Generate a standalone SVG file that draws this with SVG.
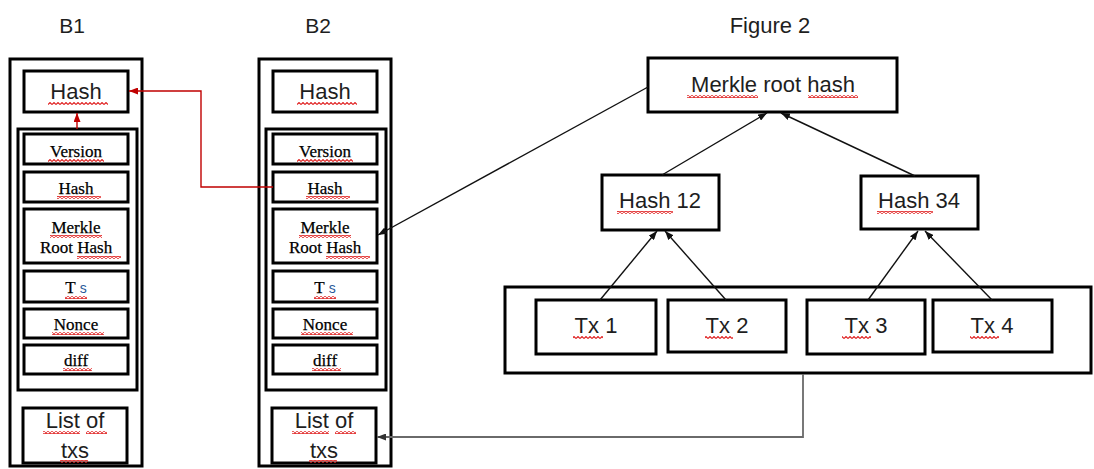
<svg xmlns="http://www.w3.org/2000/svg" width="1094" height="469" viewBox="0 0 1094 469">
  <style>
    .box{fill:#fff;stroke:#000;stroke-width:3}
    .sans{font-family:"Liberation Sans",Arial,sans-serif;fill:#1e1e1e;text-anchor:middle}
    .serif{font-family:"Liberation Serif","Times New Roman",serif;fill:#000;text-anchor:middle;font-size:17px;stroke:#000;stroke-width:0.25}
    .big{font-size:22px}
    .title{font-size:21px}
    .conn{fill:none;stroke:#111;stroke-width:1.4}
    .red{fill:none;stroke:#c00000;stroke-width:1.4}
    .gray{fill:none;stroke:#6a6a6a;stroke-width:1.8}
    .sq{fill:url(#wave)}
  </style>
  <defs>
    <pattern id="wave" patternUnits="userSpaceOnUse" width="4" height="3">
      <path d="M0 2.5 L2 0.5 L4 2.5" fill="none" stroke="#e02020" stroke-width="1.1"/>
    </pattern>
    <marker id="ah" markerUnits="userSpaceOnUse" markerWidth="9" markerHeight="7" refX="9" refY="3.5" orient="auto">
      <path d="M0,0 L9,3.5 L0,7 z" fill="#111"/>
    </marker>
    <marker id="ahRed" markerUnits="userSpaceOnUse" markerWidth="9" markerHeight="7" refX="9" refY="3.5" orient="auto">
      <path d="M0,0 L9,3.5 L0,7 z" fill="#c00000"/>
    </marker>
    <marker id="ahGray" markerUnits="userSpaceOnUse" markerWidth="9" markerHeight="7" refX="9" refY="3.5" orient="auto">
      <path d="M0,0 L9,3.5 L0,7 z" fill="#333"/>
    </marker>
  </defs>

  <rect width="1094" height="469" fill="#fff"/>

  <!-- Titles -->
  <text class="sans title" x="72" y="33">B1</text>
  <text class="sans title" x="318" y="33">B2</text>
  <text class="sans big" x="770" y="33">Figure 2</text>

  <!-- Block B1 -->
  <g id="block-b1">
    <rect class="box" x="10" y="59" width="132" height="407"/>
    <rect class="box" x="24" y="71" width="104" height="41"/>
    <text class="sans big" x="76" y="99">Hash</text>
    <rect class="sq" x="48" y="102" width="60" height="3"/>
    <g id="b1-header">
      <rect class="box" x="18" y="129" width="119" height="261"/>
      <rect class="box" x="24" y="134" width="104" height="30"/>
      <text class="serif" x="76" y="157">Version</text>
      <rect class="sq" x="48" y="159" width="56" height="3"/>
      <rect class="box" x="24" y="172" width="104" height="30"/>
      <text class="serif" x="76" y="194">Hash</text>
      <rect class="sq" x="57" y="196" width="44" height="3"/>
      <rect class="box" x="24" y="209" width="104" height="54"/>
      <text class="serif" x="76" y="233">Merkle</text>
      <rect class="sq" x="50" y="235" width="52" height="3"/>
      <text class="serif" x="76" y="253">Root Hash</text>
      <rect class="sq" x="77" y="256" width="44" height="3"/>
      <rect class="box" x="24" y="271" width="104" height="31"/>
      <text class="serif" x="76" y="293">T <tspan font-family="Liberation Sans, Arial, sans-serif" font-size="14" fill="#2a5a9a" stroke="none">s</tspan></text>
      <rect class="sq" x="65" y="296" width="22" height="3"/>
      <rect class="box" x="24" y="309" width="104" height="29"/>
      <text class="serif" x="76" y="330">Nonce</text>
      <rect class="sq" x="52" y="332" width="52" height="3"/>
      <rect class="box" x="24" y="345" width="104" height="29"/>
      <text class="serif" x="76" y="366">diff</text>
      <rect class="sq" x="63" y="368" width="29" height="3"/>
    </g>
    <rect class="box" x="23" y="408" width="104" height="55"/>
    <text class="sans big" x="75" y="428">List of</text>
    <rect class="sq" x="43" y="431" width="37" height="3"/>
    <rect class="sq" x="86" y="431" width="21" height="3"/>
    <text class="sans big" x="75" y="458">txs</text>
    <rect class="sq" x="60" y="460" width="28" height="3"/>
  </g>

  <!-- Block B2 -->
  <g id="block-b2" transform="translate(249,0)">
    <rect class="box" x="10" y="59" width="132" height="407"/>
    <rect class="box" x="24" y="71" width="104" height="41"/>
    <text class="sans big" x="76" y="99">Hash</text>
    <rect class="sq" x="48" y="102" width="60" height="3"/>
    <g id="b2-header">
      <rect class="box" x="17" y="129" width="120" height="261"/>
      <rect class="box" x="24" y="134" width="104" height="30"/>
      <text class="serif" x="76" y="157">Version</text>
      <rect class="sq" x="48" y="159" width="56" height="3"/>
      <rect class="box" x="24" y="172" width="104" height="30"/>
      <text class="serif" x="76" y="194">Hash</text>
      <rect class="sq" x="57" y="196" width="44" height="3"/>
      <rect class="box" x="24" y="209" width="104" height="54"/>
      <text class="serif" x="76" y="233">Merkle</text>
      <rect class="sq" x="50" y="235" width="52" height="3"/>
      <text class="serif" x="76" y="253">Root Hash</text>
      <rect class="sq" x="77" y="256" width="44" height="3"/>
      <rect class="box" x="24" y="271" width="104" height="31"/>
      <text class="serif" x="76" y="293">T <tspan font-family="Liberation Sans, Arial, sans-serif" font-size="14" fill="#2a5a9a" stroke="none">s</tspan></text>
      <rect class="sq" x="65" y="296" width="22" height="3"/>
      <rect class="box" x="24" y="309" width="104" height="29"/>
      <text class="serif" x="76" y="330">Nonce</text>
      <rect class="sq" x="52" y="332" width="52" height="3"/>
      <rect class="box" x="24" y="345" width="104" height="29"/>
      <text class="serif" x="76" y="366">diff</text>
      <rect class="sq" x="63" y="368" width="29" height="3"/>
    </g>
    <rect class="box" x="23" y="408" width="104" height="55"/>
    <text class="sans big" x="75" y="428">List of</text>
    <rect class="sq" x="43" y="431" width="37" height="3"/>
    <rect class="sq" x="86" y="431" width="21" height="3"/>
    <text class="sans big" x="75" y="458">txs</text>
    <rect class="sq" x="60" y="460" width="28" height="3"/>
  </g>

  <!-- Merkle tree -->
  <g id="merkle-root">
    <rect class="box" x="648" y="58" width="249" height="54"/>
    <text class="sans big" x="773" y="92">Merkle root hash</text>
    <rect class="sq" x="687" y="95" width="71" height="3"/>
    <rect class="sq" x="808" y="95" width="50" height="3"/>
  </g>
  <g id="hash-12">
    <rect class="box" x="602" y="175" width="117" height="55"/>
    <text class="sans big" x="660" y="208">Hash 12</text>
    <rect class="sq" x="617" y="211" width="56" height="3"/>
  </g>
  <g id="hash-34">
    <rect class="box" x="861" y="176" width="117" height="53"/>
    <text class="sans big" x="919" y="208">Hash 34</text>
    <rect class="sq" x="877" y="211" width="56" height="3"/>
  </g>
  <g id="tx-list">
    <rect class="box" x="505" y="287" width="586" height="86"/>
  </g>
  <g id="tx-1">
    <rect class="box" x="536" y="300" width="120" height="54"/>
    <text class="sans big" x="596" y="333">Tx 1</text>
    <rect class="sq" x="573" y="336" width="30" height="3"/>
  </g>
  <g id="tx-2">
    <rect class="box" x="668" y="300" width="118" height="52"/>
    <text class="sans big" x="727" y="333">Tx 2</text>
    <rect class="sq" x="705" y="336" width="28" height="3"/>
  </g>
  <g id="tx-3">
    <rect class="box" x="807" y="300" width="118" height="54"/>
    <text class="sans big" x="866" y="333">Tx 3</text>
    <rect class="sq" x="842" y="336" width="29" height="3"/>
  </g>
  <g id="tx-4">
    <rect class="box" x="933" y="300" width="119" height="52"/>
    <text class="sans big" x="992" y="333">Tx 4</text>
    <rect class="sq" x="970" y="336" width="29" height="3"/>
  </g>

  <!-- Connectors -->
  <g id="connectors">
    <path class="red" d="M273,187 H201 V91 H129" marker-end="url(#ahRed)"/>
    <path class="red" d="M77,129 V113" marker-end="url(#ahRed)"/>
    <path class="conn" d="M662,175 L767,113" marker-end="url(#ah)"/>
    <path class="conn" d="M915,176 L781,113" marker-end="url(#ah)"/>
    <path class="conn" d="M600,300 L657,231" marker-end="url(#ah)"/>
    <path class="conn" d="M726,300 L665,231" marker-end="url(#ah)"/>
    <path class="conn" d="M868,300 L918,231" marker-end="url(#ah)"/>
    <path class="conn" d="M992,300 L925,231" marker-end="url(#ah)"/>
    <path class="conn" d="M648,87 L378,235" marker-end="url(#ah)"/>
    <path class="gray" d="M803,374 V437 H377" marker-end="url(#ahGray)"/>
  </g>
</svg>
